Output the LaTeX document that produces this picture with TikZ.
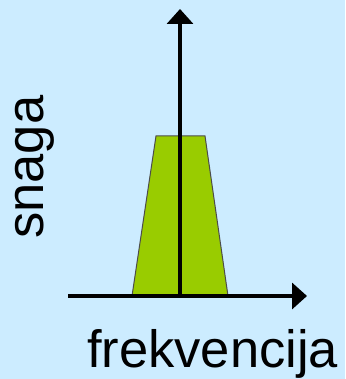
\documentclass[tikz,border=0pt]{standalone}
\usepackage{fontspec}
\setmainfont{Liberation Sans}
\usetikzlibrary{arrows.meta}
\definecolor{bgblue}{HTML}{CCECFF}
\definecolor{bandgreen}{HTML}{99CC00}
\tikzset{
  axis/.style={line width=3.5pt, -{Triangle[length=15pt,width=26pt]}},
  lbl/.style={font=\fontsize{52.5}{60}\selectfont, inner sep=0pt}
}
\begin{document}
\begin{tikzpicture}[x=1pt,y=-1pt]
\fill[bgblue] (0,0) rectangle (345,379);
\useasboundingbox (0,0) rectangle (345,379);
\coordinate (o) at (180,296);
\coordinate (xl) at (68,296);
\coordinate (xr) at (307,296);
\coordinate (yt) at (180,9);
\filldraw[fill=bandgreen, draw=black!70, line width=1pt] (132,296) -- (156,136) -- (205,136) -- (228,296) -- cycle;
\draw[axis] (xl) -- (xr);
\draw[axis, shorten <=-1.75pt] (o) -- (yt);
\node[lbl, anchor=base west] (fx) at (87,367) {frekvencija};
\node[lbl, anchor=base west, rotate=90] (sy) at (43,239) {snaga};
\end{tikzpicture}
\end{document}
